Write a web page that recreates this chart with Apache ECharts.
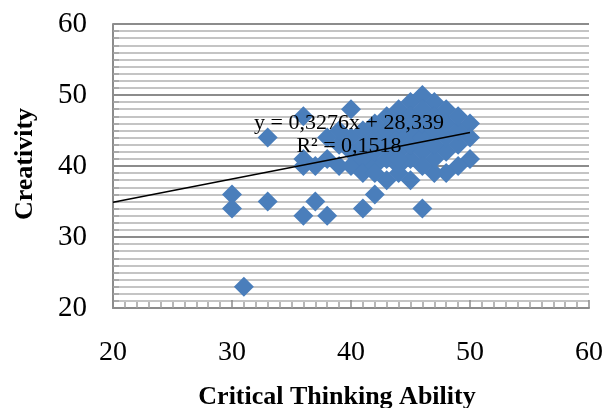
<!DOCTYPE html>
<html>
<head>
<meta charset="utf-8">
<script src="https://cdn.jsdelivr.net/npm/echarts@6/dist/echarts.min.js"></script>
<style>
html,body{margin:0;padding:0;background:#fff;}
#chart{width:605px;height:408px;}
</style>
</head>
<body>
<div id="chart"></div>
<script>
// Critical thinking ability (x) and creativity (y) scores
const criticalThinking = [30,30,31,33,33,36,36,36,37,36,38,41,46,42,43,45,40,43,44,45,46,47,48,50,50,50,49,48,47,48,49,
  38,39,39,40,40,40,41,41,41,41,42,42,42,42,43,43,43,44,44,44,44,45,45,45,45,46,46,46,46,47,47,47,47,48,48,49,49,46,44,39,38,37,42,44];
const creativity = [36,34,23,44,35,47,41,40,35,33,33,34,34,36,38,38,48,47,48,49,50,49,48,46,44,41,40,39,39,42,43,
  41,43,40,42,40,44,41,43,45,39,40,42,44,39,41,43,45,40,42,44,46,41,43,45,47,42,44,46,48,41,43,45,47,44,46,45,47,40,39,45,44,40,46,41];
const xTicks = [20,30,40,50,60];
const yTicks = [20,30,40,50,60];
const trendSlope = 0.3276;
const trendIntercept = 28.339;
const trendRange = [20, 50];
const equationText = 'y = 0,3276x + 28,339';
const r2Text = 'R² = 0,1518';
const xTitle = 'Critical Thinking Ability';
const yTitle = 'Creativity';

const points = criticalThinking.map((x, i) => [x, creativity[i]]);
const trend = trendRange.map(x => [x, trendSlope * x + trendIntercept]);

const serif = 'Liberation Serif';
const chart = echarts.init(document.getElementById('chart'), null, {renderer: 'canvas'});
chart.setOption({
  animation: false,
  backgroundColor: '#ffffff',
  grid: {left: 113, right: 16, top: 24, bottom: 100, containLabel: false, outerBoundsMode: 'none'},
  xAxis: {
    type: 'value', min: xTicks[0], max: xTicks[xTicks.length - 1], interval: 10,
    axisLine: {show: true, onZero: false, lineStyle: {color: '#8c8c8c', width: 2}},
    axisTick: {show: true, inside: true, length: 8, lineStyle: {color: '#8c8c8c', width: 1.5}},
    minorTick: {show: true, splitNumber: 10, length: 6, lineStyle: {color: '#a0a0a0', width: 1.5}},
    splitLine: {show: false},
    axisLabel: {fontFamily: serif, fontSize: 28, color: '#000', margin: 31}
  },
  yAxis: {
    type: 'value', min: yTicks[0], max: yTicks[yTicks.length - 1], interval: 10,
    axisLine: {show: true, onZero: false, lineStyle: {color: '#8c8c8c', width: 2}},
    axisTick: {show: true, inside: true, length: 7, lineStyle: {color: '#8c8c8c', width: 1.5}},
    minorTick: {show: true, splitNumber: 10, length: 6, lineStyle: {color: '#a0a0a0', width: 1.5}},
    splitLine: {show: true, lineStyle: {color: '#8c8c8c', width: 2}},
    minorSplitLine: {show: true, lineStyle: {color: '#c4c4c4', width: 2}},
    axisLabel: {fontFamily: serif, fontSize: 29, color: '#000', margin: 26}
  },
  series: [
    {
      type: 'scatter', data: points, symbol: 'diamond', symbolSize: 20,
      itemStyle: {color: '#4a7ebb', opacity: 1}, z: 2
    },
    {
      type: 'line', data: trend, showSymbol: false, symbol: 'none',
      lineStyle: {color: '#000', width: 1.5}, z: 3
    }
  ],
  graphic: [
    {type: 'text', x: 349, y: 123, z: 10,
     style: {text: equationText, font: '22px "Liberation Serif"', fill: '#000', align: 'center', verticalAlign: 'middle'}},
    {type: 'text', x: 349, y: 146, z: 10,
     style: {text: r2Text, font: '22px "Liberation Serif"', fill: '#000', align: 'center', verticalAlign: 'middle'}},
    {type: 'text', x: 337, y: 397, z: 10,
     style: {text: xTitle, font: 'bold 26px "Liberation Serif"', fill: '#000', align: 'center', verticalAlign: 'middle'}},
    {type: 'text', x: 25, y: 164, rotation: Math.PI / 2, z: 10,
     style: {text: yTitle, font: 'bold 26px "Liberation Serif"', fill: '#000', align: 'center', verticalAlign: 'middle'}}
  ]
});
</script>
</body>
</html>
